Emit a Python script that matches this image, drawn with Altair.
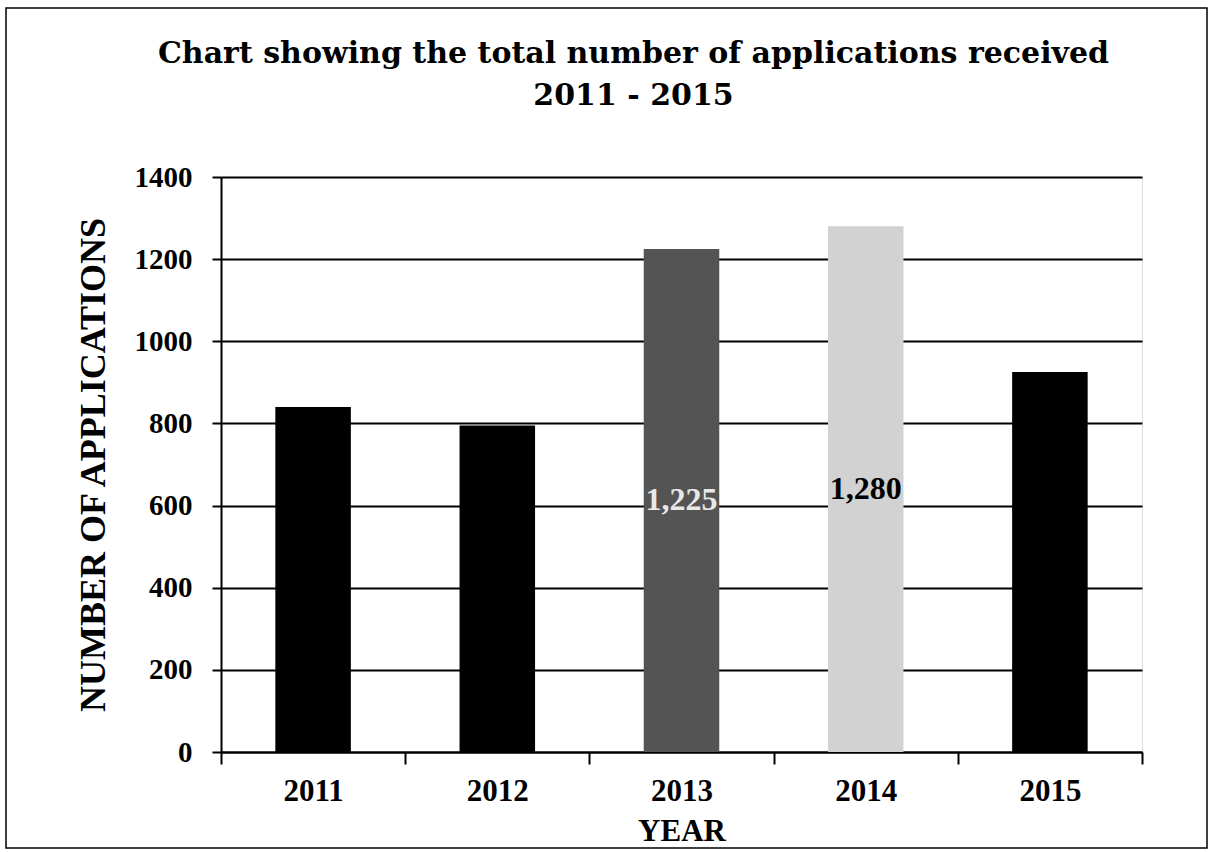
import altair as alt
import pandas as pd

years = ["2011", "2012", "2013", "2014", "2015"]
applications = [840, 795, 1225, 1280, 925]
bar_colors = ["#000000", "#000000", "#545454", "#d2d2d2", "#000000"]
labels = ["", "", "1,225", "1,280", ""]
label_colors = ["#000000", "#000000", "#e8e8e8", "#000000", "#000000"]
y_ticks = [0, 200, 400, 600, 800, 1000, 1200, 1400]

df = pd.DataFrame({"year": years, "value": applications, "label": labels, "lcolor": label_colors})

x_enc = alt.X(
    "year:N",
    sort=years,
    scale=alt.Scale(paddingInner=0, paddingOuter=0),
    axis=alt.Axis(
        title="YEAR",
        labelAngle=0,
        labelFont="Liberation Serif",
        labelFontSize=31,
        labelFontWeight="bold",
        labelColor="black",
        labelPadding=12,
        tickBand="extent",
        tickSize=12,
        tickColor="black",
        tickWidth=2,
        domainColor="black",
        domainWidth=2,
        grid=False,
        titleFont="Liberation Serif",
        titleFontSize=31,
        titleFontWeight="bold",
        titleColor="black",
        titlePadding=10,
    ),
)

y_axis = alt.Axis(
    title="NUMBER OF APPLICATIONS",
    values=y_ticks,
    format="d",
    labelFont="Liberation Serif",
    labelFontSize=29,
    labelFontWeight="bold",
    labelColor="black",
    labelPadding=20,
    tickSize=9,
    tickColor="black",
    tickWidth=2,
    domainColor="black",
    domainWidth=2,
    grid=True,
    gridColor="black",
    gridWidth=2,
    titleFont="Liberation Serif",
    titleFontSize=36,
    titleFontWeight="bold",
    titleColor="black",
    titlePadding=22,
)

bars = alt.Chart(df).mark_bar(width=alt.RelativeBandSize(0.41)).encode(
    x=x_enc,
    y=alt.Y("value:Q", scale=alt.Scale(domain=[0, 1400], nice=False), axis=y_axis),
    color=alt.Color("year:N", scale=alt.Scale(domain=years, range=bar_colors), legend=None),
)

texts = alt.Chart(df).transform_filter(
    alt.datum.label != ""
).transform_calculate(
    mid="datum.value / 2"
).mark_text(
    font="Liberation Serif", fontSize=32, fontWeight="bold", baseline="middle", align="center"
).encode(
    x=alt.X("year:N", sort=years),
    y=alt.Y("mid:Q"),
    text="label:N",
    color=alt.Color("lcolor:N", scale=None),
)

frame = alt.Chart(df).transform_filter(alt.datum.year == "2011").mark_rect(
    fill=None, stroke="black", strokeWidth=1.5
).encode(
    x=alt.value(-215), x2=alt.value(986), y=alt.value(-169), y2=alt.value(671)
)

chart = alt.layer(frame, bars, texts).properties(
    width=921,
    height=575,
    title=alt.TitleParams(
        text=["Chart showing the total number of applications received", "2011 - 2015"],
        font="DejaVu Serif",
        fontSize=30,
        fontWeight="bold",
        color="black",
        anchor="middle",
        frame="group",
        dx=-48,
        lineHeight=42,
        offset=-104,
    ),
    autosize=alt.AutoSizeParams(type="none"),
    padding={"left": 221, "top": 177, "right": 66, "bottom": 100},
).configure_view(stroke=None).configure(background="white")

chart.save("out.html", embed_options={"renderer": "svg", "actions": False})
